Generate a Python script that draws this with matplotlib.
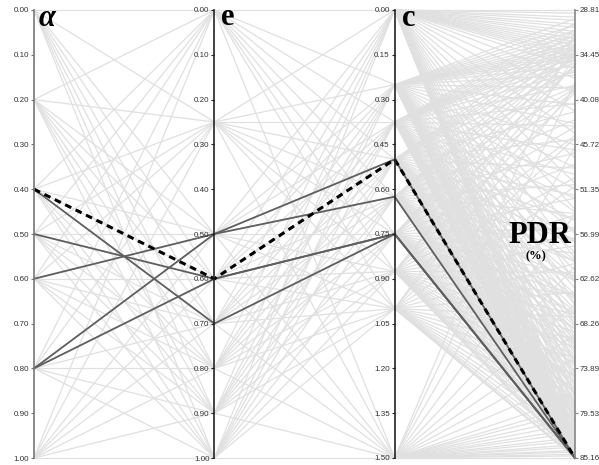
import matplotlib
matplotlib.use("Agg")
import matplotlib.pyplot as plt
from matplotlib.collections import LineCollection

# ranges of the four coordinates (alpha, e, c, PDR)
lo = [0.0, 0.0, 0.0, 28.81]
hi = [1.0, 1.0, 1.5, 85.16]

alpha_ticks = [0.0, 0.1, 0.2, 0.3, 0.4, 0.5, 0.6, 0.7, 0.8, 0.9, 1.0]
e_ticks = [0.0, 0.1, 0.2, 0.3, 0.4, 0.5, 0.6, 0.7, 0.8, 0.9, 1.0]
c_ticks = [0.0, 0.15, 0.30, 0.45, 0.60, 0.75, 0.90, 1.05, 1.20, 1.35, 1.50]
pdr_ticks = [28.81, 34.45, 40.08, 45.72, 51.35, 56.99, 62.62, 68.26, 73.89, 79.53, 85.16]

# levels visited by the parameter sweep
alpha_levels = [0.0, 0.2, 0.4, 0.5, 0.6, 0.8, 1.0]
e_levels = [0.0, 0.25, 0.5, 0.6, 0.7, 0.8, 0.9, 1.0]
c_levels = [0.0, 0.25, 0.375, 0.5, 0.625, 0.75, 0.875, 1.0, 1.5]

# PDR reached from each c level
pdr_c000 = [28.81, 29.2, 29.7, 30.1, 30.6, 31.0, 31.5, 31.9, 32.4, 32.8, 33.2, 33.6, 34.0, 34.4,
            34.8, 35.3, 36.1, 37.4, 39.2, 41.5, 44.3, 47.4, 50.6, 53.9, 57.0, 60.1, 63.0, 65.8,
            68.4, 70.9, 73.2, 75.3, 77.2, 78.9, 80.4, 81.6, 82.6, 83.4, 84.0, 84.4, 84.7, 84.9,
            85.0, 85.1, 85.16, 85.16, 85.16, 85.16]
pdr_c025 = [29.9, 30.7, 31.4, 32.0, 32.6, 33.1, 33.5, 33.9, 34.3, 34.7, 35.2, 35.9, 37.0, 38.6,
            40.7, 43.1, 45.8, 48.6, 51.4, 54.2, 56.8, 59.3, 61.6, 63.8, 65.9, 67.8, 69.6, 71.3,
            72.9, 74.4, 75.8, 77.1, 78.3, 79.4, 80.4, 81.3, 82.1, 82.8, 83.4, 83.9, 84.3, 84.6,
            84.9, 85.1, 85.16, 85.16]
pdr_c0375 = [30.5, 31.3, 32.0, 32.7, 33.3, 33.8, 34.3, 34.8, 35.5, 36.6, 38.3, 40.6, 43.4, 46.4,
             49.5, 52.5, 55.3, 57.9, 60.3, 62.5, 64.6, 66.5, 68.3, 70.0, 71.6, 73.1, 74.5, 75.8,
             77.0, 78.1, 79.1, 80.1, 81.0, 81.8, 82.5, 83.1, 83.6, 84.1, 84.5, 84.8, 85.0, 85.16,
             85.16]
pdr_c050 = [31.4, 32.5, 33.4, 34.2, 35.0, 36.3, 38.5, 41.6, 45.1, 48.7, 52.1, 55.2, 58.0, 60.5,
            62.8, 64.9, 66.8, 68.6, 70.3, 71.9, 73.4, 74.8, 76.1, 77.3, 78.4, 79.4, 80.3, 81.2,
            82.0, 82.7, 83.3, 83.8, 84.2, 84.6, 84.9, 85.1, 85.16, 85.16]
pdr_c0625 = [32.3, 33.5, 34.5, 35.9, 38.7, 42.6, 46.8, 50.8, 54.4, 57.6, 60.4, 62.9, 65.1, 67.1,
             68.9, 70.6, 72.2, 73.7, 75.1, 76.4, 77.6, 78.7, 79.7, 80.6, 81.5, 82.3, 83.0, 83.6,
             84.1, 84.5, 84.9, 85.16, 85.16]
pdr_c075 = [33.1, 34.3, 35.8, 38.9, 43.5, 48.2, 52.5, 56.2, 59.4, 62.2, 64.7, 66.9, 68.9, 70.8,
            72.5, 74.1, 75.6, 77.0, 78.3, 79.5, 80.6, 81.6, 82.5, 83.3, 84.0, 84.5, 84.9, 85.16,
            85.16]
pdr_c0875 = [33.9, 35.6, 39.2, 44.6, 49.9, 54.6, 58.5, 61.8, 64.6, 67.1, 69.3, 71.3, 73.2, 74.9,
             76.5, 78.0, 79.4, 80.7, 81.8, 82.8, 83.6, 84.3, 84.8, 85.16, 85.16]
pdr_c100 = [34.8, 38.6, 44.9, 51.0, 56.3, 60.7, 64.3, 67.4, 70.1, 72.5, 74.7, 76.7, 78.5, 80.1,
            81.5, 82.7, 83.7, 84.5, 85.0, 85.16, 85.16]
pdr_c150 = [31.5, 38.0, 46.0, 54.5, 61.0, 65.8, 69.6, 72.7, 75.3, 77.5, 78.6, 79.3, 80.1, 80.8,
            81.5, 82.0, 82.6, 83.0, 83.5, 83.8, 84.2, 84.4, 84.7, 84.9, 85.16]
pdr_by_c = [pdr_c000, pdr_c025, pdr_c0375, pdr_c050, pdr_c0625, pdr_c075, pdr_c0875,
            pdr_c100, pdr_c150]

# settings that reach the maximum PDR
top_alpha = [0.4, 0.5, 0.6, 0.8, 0.8]
top_e = [0.7, 0.6, 0.5, 0.5, 0.6]
top_c = [0.75, 0.75, 0.5, 0.625, 0.75]
top_pdr = [85.16, 85.16, 85.16, 85.16, 85.16]

# chosen setting (dashed)
best = [0.4, 0.6, 0.5, 85.16]


def n(v, i):
    return (v - lo[i]) / (hi[i] - lo[i])


W, H = 599, 465
fig = plt.figure(figsize=(W / 100, H / 100), dpi=100)
L, R, T, B = 34 / W, 575 / W, 1 - 10 / H, 1 - 458 / H
ax = fig.add_axes([L, B, R - L, T - B])
ax.set_xlim(0, 3); ax.set_ylim(1, 0); ax.axis("off")

gray = "#e0e0e0"
seg_ae = [[(0, n(a, 0)), (1, n(e, 1))] for a in alpha_levels for e in e_levels]
seg_ec = [[(1, n(e, 1)), (2, n(c, 2))] for e in e_levels for c in c_levels]
seg_cp = [[(2, n(c, 2)), (3, n(p, 3))] for c, ps in zip(c_levels, pdr_by_c) for p in ps]
ax.add_collection(LineCollection(seg_ae + seg_ec + seg_cp, colors=gray, linewidths=0.9,
                                 clip_on=False))

for row in zip(top_alpha, top_e, top_c, top_pdr):
    ax.plot(range(4), [n(v, i) for i, v in enumerate(row)], color="#5f5f5f", lw=1.3,
            clip_on=False, zorder=3)
ax.plot(range(4), [n(v, i) for i, v in enumerate(best)], color="black", lw=2.2,
        ls=(0, (2.2, 1.6)), clip_on=False, zorder=4)

# one thin axes per coordinate, carrying the spine and its ticks
ticks = [alpha_ticks, e_ticks, c_ticks, pdr_ticks]
spine_cols = ["#777777", "#222222", "#222222", "#888888"]
for i in range(4):
    x = L + i * (R - L) / 3
    sa = fig.add_axes([x, B, 1e-5, T - B])
    sa.patch.set_visible(False)
    sa.set_ylim(hi[i], lo[i])
    sa.set_xticks([])
    for s in ("top", "bottom"):
        sa.spines[s].set_visible(False)
    side = "right" if i == 3 else "left"
    other = "left" if i == 3 else "right"
    sa.spines[other].set_visible(False)
    sa.spines[side].set_color(spine_cols[i]); sa.spines[side].set_linewidth(1.2)
    if i == 3:
        sa.yaxis.tick_right()
    sa.set_yticks(ticks[i])
    sa.set_yticklabels([f"{t:.2f}" for t in ticks[i]], family="Liberation Sans")
    sa.tick_params(axis="y", direction="out", length=2.5, width=0.8, pad=1,
                   labelsize=5.8, colors="#333333", color=spine_cols[i])

serif = ["Liberation Serif", "DejaVu Serif"]
fig.text(39 / W, 1 - 26 / H, "α", family=serif, style="italic", weight="bold",
         fontsize=22, va="baseline")
fig.text(221 / W, 1 - 25 / H, "e", family=serif, weight="bold", fontsize=22, va="baseline")
fig.text(402 / W, 1 - 26 / H, "c", family=serif, weight="bold", fontsize=22, va="baseline")
fig.text(540 / W, 1 - 243 / H, "PDR", family=serif, weight="bold", fontsize=22,
         va="baseline", ha="center")
fig.text(536 / W, 1 - 256 / H, "(%)", family=serif, weight="bold", fontsize=9,
         va="center", ha="center")

fig.savefig("out.png", dpi=100)
